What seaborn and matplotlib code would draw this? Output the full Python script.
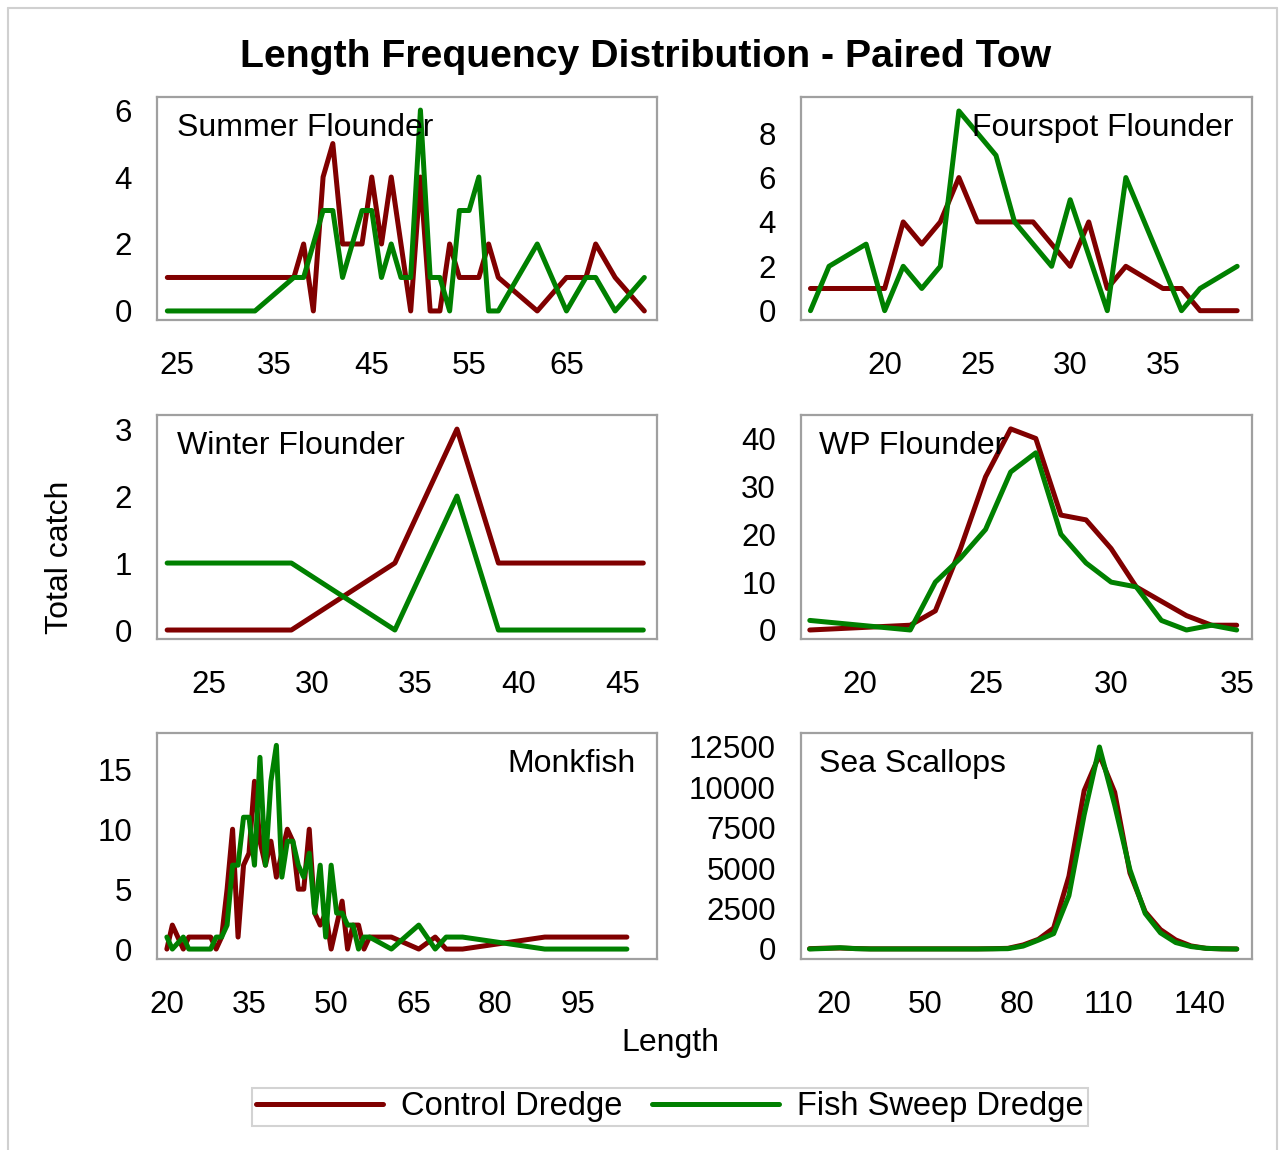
import numpy as np
import pandas as pd
import matplotlib
matplotlib.use("Agg")
import matplotlib.pyplot as plt
import seaborn as sns
from matplotlib.lines import Line2D

sns.set_theme(style="white")
plt.rcParams["font.family"] = ["Liberation Sans", "DejaVu Sans"]
plt.rcParams["text.color"] = "black"
plt.rcParams["axes.labelcolor"] = "black"
plt.rcParams["xtick.color"] = "black"
plt.rcParams["ytick.color"] = "black"

# ---------------- data ----------------
GEARS = ["Control Dredge", "Fish Sweep Dredge"]
COLORS = ["#800000", "#008000"]

# Summer Flounder
summer_len_c = [24, 37, 38, 39, 40, 41, 42, 43, 44, 45, 46, 47, 48, 49, 50, 51, 52, 53, 54, 55, 56, 57, 58, 62, 65, 67, 68, 70, 73]
summer_ctrl  = [1, 1, 2, 0, 4, 5, 2, 2, 2, 4, 2, 4, 2, 0, 4, 0, 0, 2, 1, 1, 1, 2, 1, 0, 1, 1, 2, 1, 0]
summer_len_s = [24, 33, 37, 38, 40, 41, 42, 44, 45, 46, 47, 48, 49, 50, 51, 52, 53, 54, 55, 56, 57, 58, 62, 65, 67, 68, 70, 73]
summer_sweep = [0, 0, 1, 1, 3, 3, 1, 3, 3, 1, 2, 1, 1, 6, 1, 1, 0, 3, 3, 4, 0, 0, 2, 0, 1, 1, 0, 1]

# Fourspot Flounder
fourspot_len_c = [16, 20, 21, 22, 23, 24, 25, 28, 29, 30, 31, 32, 33, 35, 36, 37, 39]
fourspot_ctrl  = [1, 1, 4, 3, 4, 6, 4, 4, 3, 2, 4, 1, 2, 1, 1, 0, 0]
fourspot_len_s = [16, 17, 19, 20, 21, 22, 23, 24, 26, 27, 29, 30, 32, 33, 36, 37, 39]
fourspot_sweep = [0, 2, 3, 0, 2, 1, 2, 9, 7, 4, 2, 5, 0, 6, 0, 1, 2]

# Winter Flounder
winter_len   = [23, 29, 34, 37, 39, 46]
winter_ctrl  = [0, 0, 1, 3, 1, 1]
winter_sweep = [1, 1, 0, 2, 0, 0]

# Windowpane (WP) Flounder
wp_len   = [18, 22, 23, 24, 25, 26, 27, 28, 29, 30, 31, 32, 33, 34, 35]
wp_ctrl  = [0, 1, 4, 17, 32, 42, 40, 24, 23, 17, 9, 6, 3, 1, 1]
wp_sweep = [2, 0, 10, 15, 21, 33, 37, 20, 14, 10, 9, 2, 0, 1, 0]

# Monkfish
monk_len   = [20, 21, 23, 24, 28, 29, 30, 31, 32, 33, 34, 35, 36, 37, 38, 39, 40, 41, 42, 43, 44, 45, 46, 47, 48, 49, 50, 51, 52, 53, 54, 55, 56, 57, 61, 66, 69, 71, 74, 89, 104]
monk_ctrl  = [0, 2, 0, 1, 1, 0, 1, 5, 10, 1, 7, 8, 14, 9, 7, 9, 6, 8, 10, 9, 5, 5, 10, 3, 2, 3, 0, 2, 4, 0, 2, 2, 0, 1, 1, 0, 1, 0, 0, 1, 1]
monk_sweep = [1, 0, 1, 0, 0, 1, 1, 2, 7, 7, 11, 11, 7, 16, 7, 14, 17, 6, 9, 9, 7, 6, 8, 3, 7, 1, 7, 3, 3, 2, 2, 0, 1, 1, 0, 2, 0, 1, 1, 0, 0]

# Sea Scallops
scallop_len   = [12, 17, 22, 27, 32, 37, 42, 47, 52, 57, 62, 67, 72, 77, 82, 87, 92, 97, 102, 107, 112, 117, 122, 127, 132, 137, 142, 147, 152]
scallop_ctrl  = [20, 50, 60, 30, 10, 10, 10, 10, 10, 10, 10, 10, 20, 40, 250, 600, 1300, 4500, 9800, 12000, 9700, 4700, 2300, 1200, 560, 190, 40, 10, 0]
scallop_sweep = [0, 30, 80, 20, 0, 0, 0, 0, 0, 0, 0, 0, 10, 20, 180, 550, 950, 3300, 8300, 12500, 8900, 4900, 2200, 1000, 400, 150, 40, 10, 0]

# tick labels
summer_xticks = [25, 35, 45, 55, 65];    summer_yticks = [0, 2, 4, 6]
fourspot_xticks = [20, 25, 30, 35];      fourspot_yticks = [0, 2, 4, 6, 8]
winter_xticks = [25, 30, 35, 40, 45];    winter_yticks = [0, 1, 2, 3]
wp_xticks = [20, 25, 30, 35];            wp_yticks = [0, 10, 20, 30, 40]
monk_xticks = [20, 35, 50, 65, 80, 95];  monk_yticks = [0, 5, 10, 15]
scallop_xticks = [20, 50, 80, 110, 140]; scallop_yticks = [0, 2500, 5000, 7500, 10000, 12500]

# ---------------- figure ----------------
W, H = 1283, 1150
fig = plt.figure(figsize=(W / 100, H / 100), dpi=100)
fig.patch.set_facecolor("white")

def frac_rect(l, r, t, b):
    return [l / W, 1 - b / H, (r - l) / W, (b - t) / H]

def long_df(len_c, ctrl, len_s, sweep):
    a = pd.DataFrame({"Length": len_c, "Total catch": ctrl, "Gear": GEARS[0]})
    b = pd.DataFrame({"Length": len_s, "Total catch": sweep, "Gear": GEARS[1]})
    return pd.concat([a, b], ignore_index=True)

panels = [
    ("Summer Flounder", long_df(summer_len_c, summer_ctrl, summer_len_s, summer_sweep),
     (157, 657, 97, 320), summer_xticks, summer_yticks, (22.94, 74.3), (-0.27, 6.39), "left"),
    ("Fourspot Flounder", long_df(fourspot_len_c, fourspot_ctrl, fourspot_len_s, fourspot_sweep),
     (801, 1252, 97, 320), fourspot_xticks, fourspot_yticks, (15.49, 39.8), (-0.42, 9.63), "right"),
    ("Winter Flounder", long_df(winter_len, winter_ctrl, winter_len, winter_sweep),
     (157, 657, 415, 639), winter_xticks, winter_yticks, (22.51, 46.66), (-0.134, 3.21), "left"),
    ("WP Flounder", long_df(wp_len, wp_ctrl, wp_len, wp_sweep),
     (801, 1252, 415, 639), wp_xticks, wp_yticks, (17.65, 35.61), (-1.88, 44.9), "left"),
    ("Monkfish", long_df(monk_len, monk_ctrl, monk_len, monk_sweep),
     (157, 657, 733, 959), monk_xticks, monk_yticks, (18.2, 109.5), (-0.83, 18.03), "right"),
    ("Sea Scallops", long_df(scallop_len, scallop_ctrl, scallop_len, scallop_sweep),
     (801, 1252, 733, 959), scallop_xticks, scallop_yticks, (9.2, 157.0), (-619, 13366), "left"),
]

FS = 23
TFS = 22.5
LW = 3.6
GRAY = "#a0a0a0"
for name, df, rect, xt, yt, xl, yl, align in panels:
    ax = fig.add_axes(frac_rect(*rect))
    sns.lineplot(data=df, x="Length", y="Total catch", hue="Gear", hue_order=GEARS,
                 palette=COLORS, estimator=None, sort=False, linewidth=LW,
                 legend=False, ax=ax)
    ax.set_xlim(*xl)
    ax.set_ylim(*yl)
    ax.set_xticks(xt)
    ax.set_yticks(yt)
    ax.set_xlabel("")
    ax.set_ylabel("")
    for s in ax.spines.values():
        s.set_color(GRAY)
        s.set_linewidth(1.6)
    ax.tick_params(axis="both", direction="out", length=11, width=1.6, color=GRAY,
                   labelsize=TFS, labelcolor="black")
    ax.tick_params(axis="x", pad=11)
    ax.tick_params(axis="y", pad=7)
    if align == "left":
        ax.text(0.04, 0.862, name, transform=ax.transAxes, ha="left", va="center", fontsize=FS)
    else:
        ax.text(0.958, 0.862, name, transform=ax.transAxes, ha="right", va="center", fontsize=FS)

fig.text(646 / W, 1 - 57 / H, "Length Frequency Distribution - Paired Tow",
         ha="center", va="center", fontsize=28.3, fontweight="bold")
fig.text(60 / W, 1 - 557 / H, "Total catch", rotation=90, ha="center", va="center", fontsize=FS)
fig.text(670 / W, 1 - 1043 / H, "Length", ha="center", va="center", fontsize=FS)

handles = [Line2D([], [], color=c, lw=LW) for c in COLORS]
leg = fig.legend(handles, GEARS, loc="center", bbox_to_anchor=(670 / W, 1 - 1107 / H),
                 ncol=2, fontsize=FS + 0.5, frameon=True, fancybox=False, handlelength=3.9,
                 handletextpad=0.55, columnspacing=0.9, borderpad=0.12, borderaxespad=0)
leg.get_frame().set_edgecolor("#c8c8c8")
leg.get_frame().set_linewidth(1.5)

# outer figure border
for xs, ys in [([8, 8], [8, H]), ([8, 1277], [8, 8]), ([1277, 1277], [8, H])]:
    fig.add_artist(Line2D([x / W for x in xs], [1 - y / H for y in ys], color="#d0d0d0", lw=1.5))

fig.savefig("out.png", dpi=100)
